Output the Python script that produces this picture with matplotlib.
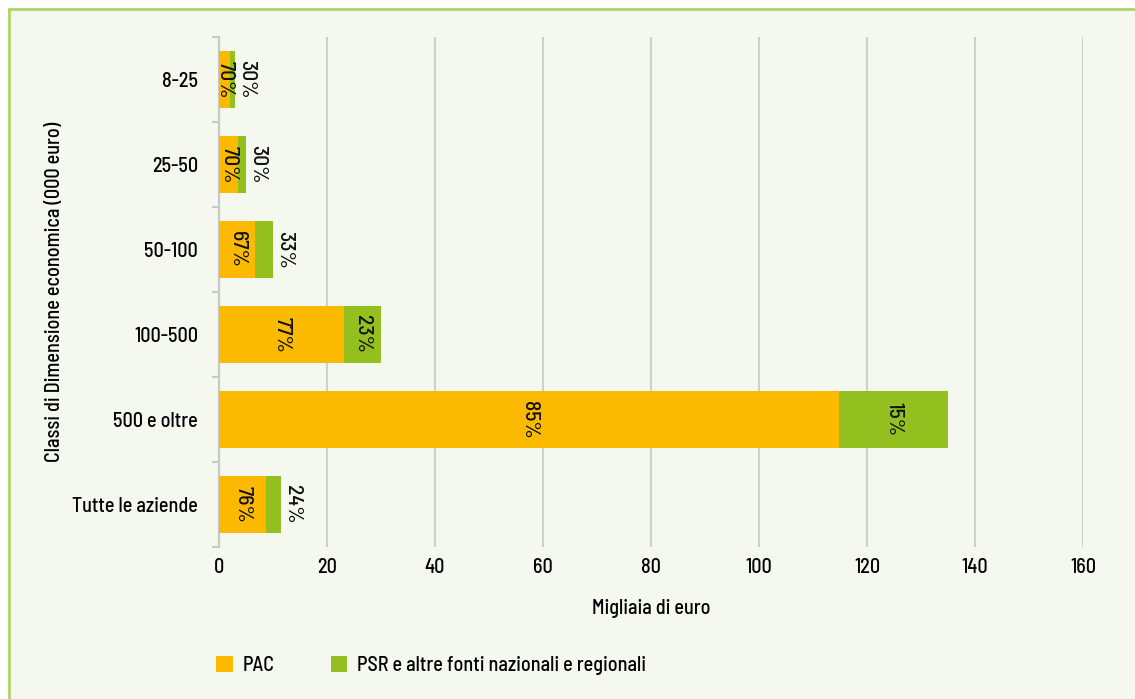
import matplotlib.pyplot as plt
from matplotlib.patches import Rectangle
import numpy as np

# dati (migliaia di euro)
classi = ['8-25', '25-50', '50-100', '100-500', '500 e oltre', 'Tutte le aziende']
pac = [2.1, 3.5, 6.7, 23.2, 114.8, 8.7]
psr = [0.9, 1.5, 3.3, 6.7, 20.2, 2.8]
perc_pac = ['70%', '70%', '67%', '77%', '85%', '76%']
perc_psr = ['30%', '30%', '33%', '23%', '15%', '24%']
xticks = [0, 20, 40, 60, 80, 100, 120, 140, 160]

col_pac = '#FBB900'
col_psr = '#93C01F'
sfondo = '#F5F8EE'

plt.rcParams['font.family'] = ['Barlow Semi Condensed', 'DejaVu Sans']
plt.rcParams['font.weight'] = 500
plt.rcParams['axes.labelweight'] = 500
fs = 14.5
fs_perc = 15.5

fig = plt.figure(figsize=(11.35, 6.99), dpi=100)
fig.patch.set_facecolor('white')
fig.patches.append(Rectangle((0.0075, -0.01), 1.0, 0.997, transform=fig.transFigure,
                             facecolor=sfondo, edgecolor='#AED366', linewidth=2, zorder=-1))

ax = fig.add_axes([0.193, 0.2175, 0.7612, 0.7296])
ax.set_facecolor('none')

y = np.arange(len(classi))
ax.barh(y, pac, height=0.68, color=col_pac, label='PAC', zorder=3)
ax.barh(y, psr, left=pac, height=0.68, color=col_psr,
        label='PSR e altre fonti nazionali e regionali', zorder=3)

for i in range(len(classi)):
    ax.text(pac[i] / 2, y[i], perc_pac[i], rotation=270, ha='center', va='center',
            fontsize=fs_perc, color='#111111', zorder=4)
    tot = pac[i] + psr[i]
    if psr[i] < 5:
        # etichetta fuori dalla barra se il segmento e' stretto
        ax.annotate(perc_psr[i], (tot, y[i]), xytext=(8, 0), textcoords='offset points',
                    rotation=270, ha='center', va='center', fontsize=fs_perc, color='#111111', zorder=4)
    else:
        ax.text(pac[i] + psr[i] / 2, y[i], perc_psr[i], rotation=270, ha='center', va='center',
                fontsize=fs_perc, color='#111111', zorder=4)

ax.set_xlim(0, 160)
ax.set_ylim(len(classi) - 0.5, -0.5)
ax.set_xticks(xticks)
ax.set_xticklabels([str(v) for v in xticks], fontsize=fs)
ax.set_yticks(y)
ax.set_yticklabels(classi, fontsize=fs)
ax.set_yticks(np.arange(len(classi) + 1) - 0.5, minor=True)
ax.tick_params(axis='y', which='major', length=0, pad=15)
ax.tick_params(axis='y', which='minor', length=5, color='#C8C8C8', width=1.5)
ax.tick_params(axis='x', length=0, pad=8)
ax.grid(axis='x', color='#CFCFCF', linewidth=1.5, zorder=0)
for s in ['top', 'right', 'bottom']:
    ax.spines[s].set_visible(False)
ax.spines['left'].set_color('#C8C8C8')
ax.spines['left'].set_linewidth(1.5)

ax.set_xlabel('Migliaia di euro', fontsize=fs, labelpad=16)
ax.set_ylabel('Classi di Dimensione economica (000 euro)', fontsize=fs)
ax.yaxis.set_label_coords(-0.18, 0.5)

ax.legend(loc='upper left', bbox_to_anchor=(-0.024, -0.178), ncol=2, frameon=False,
          fontsize=fs, handlelength=0.8, handleheight=0.8, columnspacing=2.8, handletextpad=0.5)

plt.savefig('out.png', dpi=100, facecolor=fig.get_facecolor())
